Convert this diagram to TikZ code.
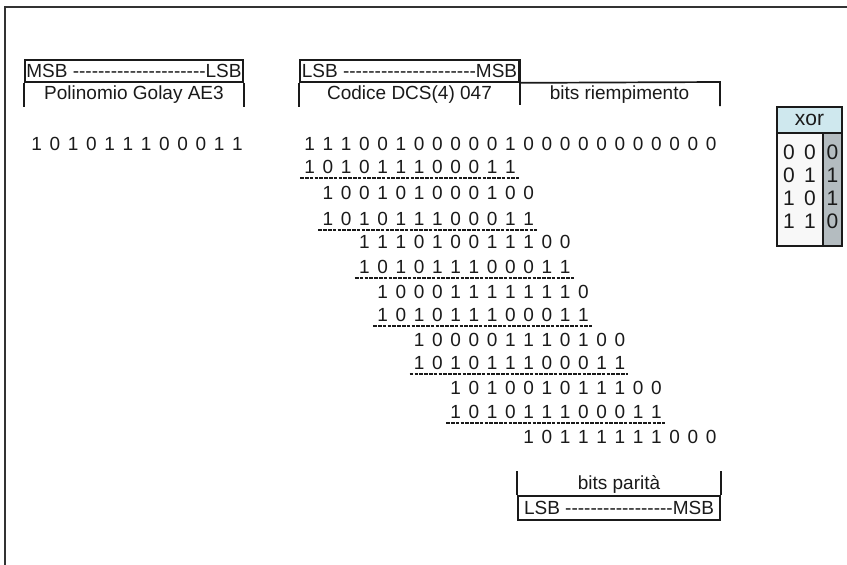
\documentclass[tikz,border=0pt]{standalone}
\usepackage{fontspec}
\setmainfont{Liberation Sans}
\definecolor{ink}{HTML}{1A1A1A}
\definecolor{frame}{HTML}{333333}
\definecolor{xhead}{HTML}{CFE8EE}
\definecolor{xgray}{HTML}{B4BCC0}
\definecolor{xlight}{HTML}{F8F8F8}
\newcommand\bitsp{\spaceskip 7.69pt\relax}
\newcommand\xorsp{\spaceskip 9.3pt\relax}
\newcommand\hyph[1]{\foreach \hh in {1,...,#1}{-}}
\begin{document}
\begin{tikzpicture}[x=1pt,y=-1pt,
  lab/.style={inner sep=0, text=ink, font=\fontsize{19}{22}\selectfont},
  hdr/.style={draw=ink, line width=1.7, inner sep=0, text=ink, minimum height=22, font=\fontsize{19}{22}\selectfont},
  brk/.style={draw=ink, line width=1.7},
  bitrow/.style={anchor=base west, inner sep=0, text=ink, font={\fontsize{19}{22}\selectfont\bitsp}},
  dline/.style={draw=ink, line width=1.7, dash pattern=on 3.6pt off 1.2pt},
  xcell/.style={draw=ink, line width=1.8, inner sep=0},
  xtxt/.style={inner sep=0, text=ink, font={\fontsize{21}{24}\selectfont\xorsp}}
]
\useasboundingbox (0,0) rectangle (847,565);
\fill[white] (0,0) rectangle (847,565);
% outer frame
\coordinate (fA) at (5,566);
\coordinate (fB) at (5,7);
\coordinate (fC) at (848,7);
\draw[frame, line width=2.2] (fA) -- (fB) -- (fC);

% ---- left header: Golay polynomial
\node[hdr, minimum width=218] (hdrL) at (134,71) {MSB \hyph{21}LSB};
\draw[brk] (hdrL.south west) -- ++(0,24);
\draw[brk] (hdrL.south east) -- ++(0,24);
\node[lab] (labL) at (134,95) {Polinomio Golay AE3};
\node[bitrow] (polyL) at (31.2,150) {1 0 1 0 1 1 1 0 0 0 1 1};

% ---- middle header: DCS code + padding bits
\node[hdr, minimum width=219] (hdrM) at (409.5,71) {LSB \hyph{21}MSB};
\draw[brk] (hdrM.south west) -- ++(0,24);
\draw[brk] (hdrM.north east) -- ++(0,46);
\coordinate (rE) at (720,82);
\draw[brk] (hdrM.south east) -- (rE) -- ++(0,24);
\node[lab] (labM) at (409.5,95) {Codice DCS(4) 047};
\node[lab] (labR) at (619.5,95) {bits riempimento};

% ---- division
\node[bitrow] (r0) at (304.2,150) {1 1 1 0 0 1 0 0 0 0 0 1 0 0 0 0 0 0 0 0 0 0 0};
\node[bitrow] (p1) at (304.2,173) {1 0 1 0 1 1 1 0 0 0 1 1};
\node[bitrow] (r1) at (322.45,199) {1 0 0 1 0 1 0 0 0 1 0 0};
\node[bitrow] (p2) at (322.45,225) {1 0 1 0 1 1 1 0 0 0 1 1};
\node[bitrow] (r2) at (358.95,248) {1 1 1 0 1 0 0 1 1 1 0 0};
\node[bitrow] (p3) at (358.95,273) {1 0 1 0 1 1 1 0 0 0 1 1};
\node[bitrow] (r3) at (377.2,298) {1 0 0 0 1 1 1 1 1 1 1 0};
\node[bitrow] (p4) at (377.2,321) {1 0 1 0 1 1 1 0 0 0 1 1};
\node[bitrow] (r4) at (413.7,346) {1 0 0 0 0 1 1 1 0 1 0 0};
\node[bitrow] (p5) at (413.7,369) {1 0 1 0 1 1 1 0 0 0 1 1};
\node[bitrow] (r5) at (450.2,394) {1 0 1 0 0 1 0 1 1 1 0 0};
\node[bitrow] (p6) at (450.2,418) {1 0 1 0 1 1 1 0 0 0 1 1};
\node[bitrow] (r6) at (523.2,443) {1 0 1 1 1 1 1 1 0 0 0};
\foreach \p in {p1,p2,p3,p4,p5,p6}{
  \draw[dline] ([shift={(-4,4.8)}]\p.south west) -- ([shift={(3,4.8)}]\p.south east);
}

% ---- bottom: parity bits
\node[hdr, minimum width=202, minimum height=24] (ftr) at (619,508) {LSB \hyph{17}MSB};
\draw[brk] (ftr.north west) -- ++(0,-24);
\draw[brk] (ftr.north east) -- ++(0,-24);
\node[lab] (labP) at (619,484) {bits parità};

% ---- xor table
\node[xcell, fill=xlight, minimum width=46, minimum height=113] (xl) at (800,189.5) {};
\node[xcell, fill=xgray, minimum width=19, minimum height=113] (xr) at (832.5,189.5) {};
\node[xcell, fill=xhead, minimum width=65, minimum height=26] (xh) at (809.5,120) {};
\node[xtxt] (xhl) at (xh.center) {xor};
\node[xtxt] (a1) at (799.5,152) {0 0};
\node[xtxt] (b1) at (832.5,152) {0};
\node[xtxt] (a2) at (799.5,175) {0 1};
\node[xtxt] (b2) at (832.5,175) {1};
\node[xtxt] (a3) at (799.5,198) {1 0};
\node[xtxt] (b3) at (832.5,198) {1};
\node[xtxt] (a4) at (799.5,221) {1 1};
\node[xtxt] (b4) at (832.5,221) {0};
\end{tikzpicture}
\end{document}
